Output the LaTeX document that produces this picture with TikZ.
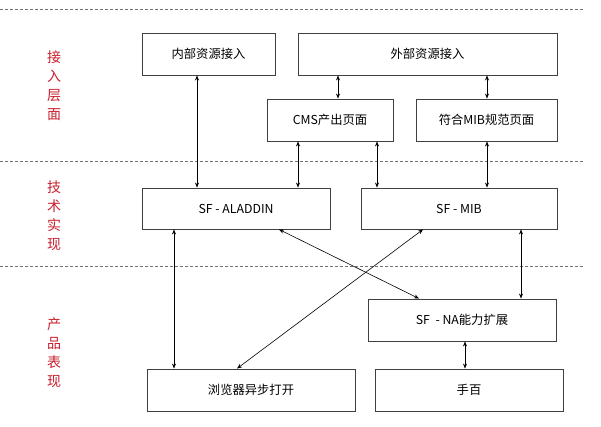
\documentclass[tikz,border=0pt]{standalone}
\usepackage{fontspec}
\setmainfont{Noto Sans CJK SC}
\usetikzlibrary{arrows.meta}
\definecolor{lblred}{HTML}{C8202E}
\begin{document}
\begin{tikzpicture}[x=1pt,y=-1pt,
  box/.style={draw=black!75,line width=0.9pt,fill=white,font=\fontsize{12.3}{14}\selectfont,inner sep=0pt},
  link/.style={line width=0.6pt,{Stealth[length=5pt,width=4pt]}-{Stealth[length=5pt,width=4pt]}},
  sep/.style={draw=black!55,dashed,dash pattern=on 3pt off 2pt,line width=0.7pt},
  lbl/.style={text=lblred,font=\fontsize{14}{19}\selectfont,align=center,inner sep=0pt}]
\useasboundingbox (0,0) rectangle (601,426);
\fill[white] (0,0) rectangle (601,426);
% separators
\coordinate (s1a) at (0,9);   \coordinate (s1b) at (583,9);
\coordinate (s2a) at (0,161); \coordinate (s2b) at (583,161);
\coordinate (s3a) at (0,266); \coordinate (s3b) at (583,266);
\draw[sep] (s1a) -- (s1b);
\draw[sep] (s2a) -- (s2b);
\draw[sep] (s3a) -- (s3b);
% layer labels
\node[lbl] (L1) at (54,86) {接\\入\\层\\面};
\node[lbl] (L2) at (54,216) {技\\术\\实\\现};
\node[lbl] (L3) at (54,353) {产\\品\\表\\现};
% boxes
\node[box,minimum width=133pt,minimum height=42pt] (nb) at (208.5,54) {内部资源接入};
\node[box,minimum width=259pt,minimum height=42pt] (wb) at (427.5,54) {外部资源接入};
\node[box,minimum width=126pt,minimum height=42pt] (cms) at (330,120) {CMS产出页面};
\node[box,minimum width=141pt,minimum height=42pt] (fh) at (486.5,120) {符合MIB规范页面};
\node[box,minimum width=188pt,minimum height=41pt] (al) at (236,208.5) {SF - ALADDIN};
\node[box,minimum width=196pt,minimum height=41pt] (mib) at (459,208.5) {SF - MIB};
\node[box,minimum width=188pt,minimum height=42pt] (na) at (462,320) {SF \ - NA能力扩展};
\node[box,minimum width=208pt,minimum height=42pt] (br) at (251,390) {浏览器异步打开};
\node[box,minimum width=188pt,minimum height=42pt] (sb) at (469,390) {手百};
% connectors
\draw[link] (nb.south -| 197,0) -- (al.north -| 197,0);
\draw[link] (wb.south -| 338,0) -- (cms.north -| 338,0);
\draw[link] (wb.south -| 487,0) -- (fh.north -| 487,0);
\draw[link] (cms.south -| 298,0) -- (al.north -| 298,0);
\draw[link] (cms.south -| 377,0) -- (mib.north -| 377,0);
\draw[link] (fh.south -| 487,0) -- (mib.north -| 487,0);
\draw[link] (al.south -| 174,0) -- (br.north -| 174,0);
\draw[link] (mib.south -| 521,0) -- (na.north -| 521,0);
\draw[link] (na.south -| 465,0) -- (sb.north -| 465,0);
\draw[link] (al.south -| 279,0) -- (na.north -| 419,0);
\draw[link] (mib.south -| 423,0) -- (br.north -| 237,0);
\end{tikzpicture}
\end{document}
